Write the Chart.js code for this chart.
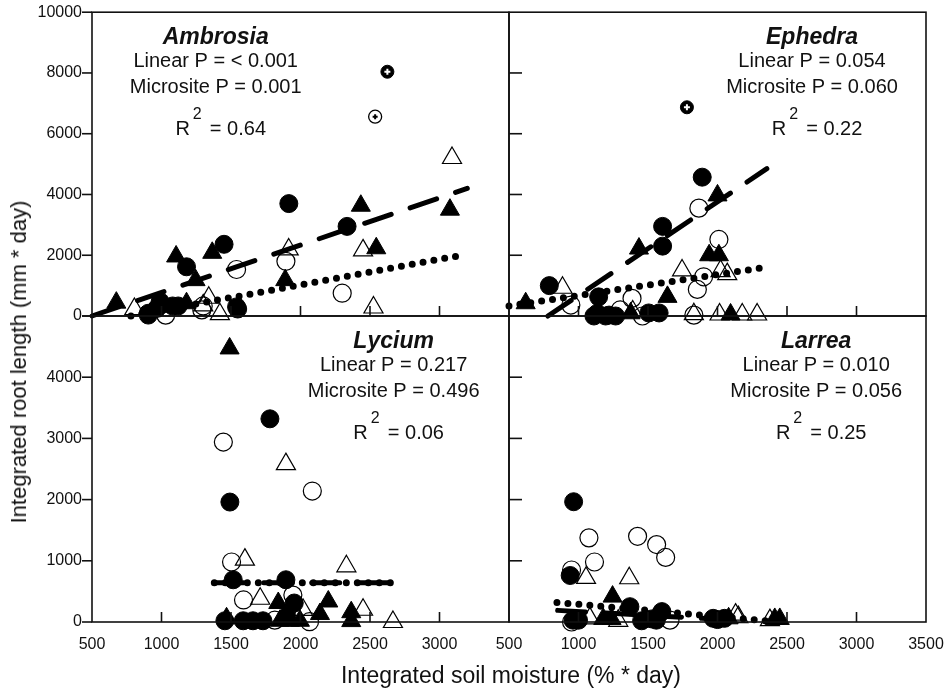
<!DOCTYPE html>
<html>
<head>
<meta charset="utf-8">
<script src="https://cdn.jsdelivr.net/npm/chart.js@4.4.1/dist/chart.umd.min.js"></script>
<style>
body { margin: 0; background: #fff; }
#wrap { position: relative; width: 948px; height: 688px; font-family: "Liberation Sans", Arial, sans-serif; color: #111; }
#wrap canvas { position: absolute; left: 0; top: 0; }
.ytitle { position: absolute; left: 19px; top: 362px; transform: translate(-50%, -50%) rotate(-90deg); font-size: 22px; white-space: nowrap; }
.xtitle { position: absolute; left: 511px; top: 675px; transform: translate(-50%, -50%); font-size: 23px; white-space: nowrap; }
</style>
</head>
<body>
<div id="wrap">
  <canvas id="ambrosia" width="948" height="688"></canvas>
  <canvas id="ephedra" width="948" height="688"></canvas>
  <canvas id="lycium" width="948" height="688"></canvas>
  <canvas id="larrea" width="948" height="688"></canvas>
  <div class="ytitle">Integrated root length (mm * day)</div>
  <div class="xtitle">Integrated soil moisture (% * day)</div>
</div>
<script>
// panel labels and stats
const species = ['Ambrosia', 'Ephedra', 'Lycium', 'Larrea'];
const linearP = ['< 0.001', '0.054', '0.217', '0.010'];
const micrositeP = ['0.001', '0.060', '0.496', '0.056'];
const rSquared = ['0.64', '0.22', '0.06', '0.25'];

// [soil moisture, root length]
const ambrosiaFilledCircles = [[905, 30], [905, 90], [967, 250], [990, 470], [1080, 330], [1120, 330], [1180, 1620], [1450, 2360], [1540, 300], [1548, 230], [1916, 3700], [2335, 2950]];
const ambrosiaOpenCircles = [[1030, 30], [1290, 200], [1300, 330], [1540, 1530], [1895, 1800], [2300, 750]];
const ambrosiaFilledTriangles = [[675, 440], [1105, 1960], [1180, 420], [1245, 1180], [1365, 2080], [1890, 1180], [2434, 3630], [2545, 2230], [3075, 3500]];
const ambrosiaOpenTriangles = [[805, 230], [1300, 350], [1340, 600], [1420, 60], [1915, 2190], [2450, 2160], [2525, 280], [3090, 5200]];
const ambrosiaMarkedFilled = [[2625, 8040]];
const ambrosiaMarkedOpen = [[2537, 6560]];
const ambrosiaDashed = [[500, 0], [3200, 4200]];
const ambrosiaDotted = [[780, 0], [3160, 2000]];

const ephedraFilledCircles = [[790, 1000], [1111, 0], [1135, 90], [1145, 630], [1195, 0], [1220, 30], [1267, 0], [1505, 100], [1580, 100], [1605, 2300], [1605, 2950], [1890, 4570]];
const ephedraOpenCircles = [[945, 360], [1300, 200], [1385, 580], [1460, 0], [1830, 30], [1855, 875], [1900, 1290], [1866, 3550], [2010, 2520]];
const ephedraFilledTriangles = [[620, 420], [1375, 90], [1435, 2220], [1640, 630], [1940, 2000], [2010, 2000], [2000, 3970], [2094, 50]];
const ephedraOpenTriangles = [[885, 930], [1390, 150], [1745, 1500], [1830, 60], [2015, 50], [2022, 1480], [2070, 1380], [2178, 50], [2285, 50]];
const ephedraMarkedFilled = [[1780, 6870]];
const ephedraMarkedOpen = [];
const ephedraDashed = [[780, 0], [2355, 4850]];
const ephedraDotted = [[500, 330], [2330, 1590]];

const lyciumFilledCircles = [[1456, 20], [1492, 1960], [1516, 690], [1588, 20], [1658, 20], [1730, 20], [1780, 3320], [1895, 690], [1900, 90], [1955, 310]];
const lyciumOpenCircles = [[1445, 2940], [1504, 980], [1590, 360], [1815, 30], [1945, 440], [2065, 5], [2085, 2140]];
const lyciumFilledTriangles = [[1468, 60], [1490, 4470], [1840, 310], [1852, 20], [1924, 20], [1996, 20], [2140, 130], [2200, 335], [2365, 160], [2365, 15]];
const lyciumOpenTriangles = [[1600, 1020], [1710, 380], [1895, 2580], [2019, 197], [2330, 910], [2450, 200], [2665, 0]];
const lyciumMarkedFilled = [];
const lyciumMarkedOpen = [];
const lyciumDashed = [[1390, 640], [2715, 640]];
const lyciumDotted = [[1380, 640], [2715, 640]];

const larreaFilledCircles = [[940, 760], [960, 30], [965, 1965], [1000, 30], [1370, 250], [1454, 20], [1526, 50], [1560, 30], [1600, 170], [1969, 60], [2000, 40], [2050, 60]];
const larreaOpenCircles = [[950, 0], [950, 850], [1075, 1375], [1115, 980], [1425, 1400], [1562, 1265], [1627, 1055], [1658, 30]];
const larreaFilledTriangles = [[1178, 50], [1238, 50], [1245, 415], [2080, 60], [2412, 50], [2448, 50]];
const larreaOpenTriangles = [[1054, 720], [1082, 60], [1286, 20], [1365, 715], [2130, 120], [2150, 80], [2377, 30]];
const larreaMarkedFilled = [];
const larreaMarkedOpen = [];
const larreaDashed = [[850, 190], [2050, 40]];
const larreaDotted = [[845, 320], [2425, 5]];

const FONT = '"Liberation Sans", Arial, sans-serif';
Chart.defaults.color = '#111';
Chart.defaults.font.family = FONT;

function pts(arr) { return arr.map(p => ({ x: p[0], y: p[1] })); }

function line(ctx, x1, y1, x2, y2) {
  ctx.beginPath(); ctx.moveTo(x1, y1); ctx.lineTo(x2, y2); ctx.stroke();
}

// frame, inward ticks and the stats text of each panel
const panelPlugin = {
  id: 'panel',
  afterDraw(chart, args, o) {
    const { ctx, chartArea: a, scales } = chart;
    ctx.save();
    ctx.strokeStyle = '#111';
    ctx.lineWidth = 1.6;
    ctx.strokeRect(a.left, a.top, a.right - a.left, a.bottom - a.top);
    scales.x.ticks.forEach(t => {
      const px = scales.x.getPixelForValue(t.value);
      if (px > a.left + 2 && px < a.right - 2) line(ctx, px, a.bottom, px, a.bottom - 10);
    });
    scales.y.ticks.forEach(t => {
      const py = scales.y.getPixelForValue(t.value);
      if (o.outward) line(ctx, a.left - 10, py, a.left, py);
      else if (py > a.top + 2 && py < a.bottom - 2) line(ctx, a.left, py, a.left + 13, py);
    });

    const k = o.k;
    const cx = scales.x.getPixelForValue(o.cx);
    const base = a.top + 32;
    ctx.fillStyle = '#111';
    ctx.textBaseline = 'alphabetic';
    ctx.textAlign = 'center';
    ctx.font = 'italic bold 23px ' + FONT;
    ctx.fillText(species[k], cx, base);
    ctx.font = '20px ' + FONT;
    ctx.fillText('Linear P = ' + linearP[k], cx, base + 23);
    ctx.fillText('Microsite P = ' + micrositeP[k], cx, base + 49);
    ctx.textAlign = 'left';
    const tail = '= ' + rSquared[k];
    const wR = ctx.measureText('R').width;
    const total = wR + 20 + ctx.measureText(tail).width;
    const x0 = cx + 5 - total / 2;
    ctx.fillText('R', x0, base + 91);
    ctx.fillText(tail, x0 + wR + 20, base + 91);
    ctx.font = '16px ' + FONT;
    ctx.fillText('2', x0 + wR + 3, base + 75);
    ctx.restore();
  }
};

function makePanel(cfg) {
  const d = cfg.data;
  const datasets = [
    { data: pts(d[0]), pointStyle: 'circle', pointRadius: 9, backgroundColor: '#000', borderColor: '#000', borderWidth: 1 },
    { data: pts(d[1]), pointStyle: 'circle', pointRadius: 9, backgroundColor: 'rgba(0,0,0,0)', borderColor: '#000', borderWidth: 1.2 },
    { data: pts(d[2]), pointStyle: 'triangle', pointRadius: 11, backgroundColor: '#000', borderColor: '#000', borderWidth: 1 },
    { data: pts(d[3]), pointStyle: 'triangle', pointRadius: 11, backgroundColor: 'rgba(0,0,0,0)', borderColor: '#000', borderWidth: 1.2 },
    { data: pts(d[4]), pointStyle: 'cross', pointRadius: 3, borderColor: '#fff', borderWidth: 2 },
    { data: pts(d[4]), pointStyle: 'circle', pointRadius: 6.5, backgroundColor: '#000', borderColor: '#000', borderWidth: 1 },
    { data: pts(d[5]), pointStyle: 'cross', pointRadius: 2.5, borderColor: '#000', borderWidth: 2 },
    { data: pts(d[5]), pointStyle: 'circle', pointRadius: 6.5, backgroundColor: '#fff', borderColor: '#000', borderWidth: 1.3 },
    { type: 'line', data: pts(d[6]), borderColor: '#000', borderWidth: 5, borderDash: [28, 20], borderCapStyle: 'round', pointRadius: 0, fill: false },
    { type: 'line', data: pts(d[7]), borderColor: '#000', borderWidth: 7, borderDash: [0, 11], borderCapStyle: 'round', pointRadius: 0, fill: false }
  ];
  datasets.forEach(ds => { ds.clip = false; ds.pointHoverRadius = ds.pointRadius; });

  return new Chart(document.getElementById(cfg.canvas), {
    type: 'scatter',
    data: { datasets },
    plugins: [panelPlugin],
    options: {
      responsive: false,
      animation: false,
      events: [],
      layout: { padding: cfg.padding },
      plugins: {
        legend: { display: false },
        tooltip: { enabled: false },
        panel: { k: cfg.k, cx: cfg.cx, outward: cfg.left }
      },
      scales: {
        x: {
          type: 'linear', min: 500, max: 3500,
          display: cfg.bottom,
          grid: { display: false, drawTicks: false },
          border: { display: false },
          ticks: {
            stepSize: 500, autoSkip: false, maxRotation: 0, padding: 13,
            font: { size: 16 },
            callback: v => (cfg.left && v === 3500) ? '' : v
          },
          afterFit: s => {
            s.height = cfg.bottom ? 50 : 0;
            s.paddingLeft = 0; s.paddingRight = 0;
          }
        },
        y: {
          type: 'linear', min: 0, max: cfg.yMax,
          display: cfg.left,
          grid: { display: false, drawTicks: false },
          border: { display: false },
          ticks: {
            stepSize: cfg.yStep, padding: 10,
            font: { size: 16 },
            callback: v => (!cfg.top && v === cfg.yMax) ? '' : v
          },
          afterFit: s => {
            s.width = cfg.left ? 92 : 0;
            s.paddingTop = 0; s.paddingBottom = 0;
          }
        }
      }
    }
  });
}

makePanel({ canvas: 'ambrosia', k: 0, cx: 1390, left: true, top: true, bottom: false, yMax: 10000, yStep: 2000,
  padding: { left: 0, top: 11, right: 439, bottom: 372 },
  data: [ambrosiaFilledCircles, ambrosiaOpenCircles, ambrosiaFilledTriangles, ambrosiaOpenTriangles, ambrosiaMarkedFilled, ambrosiaMarkedOpen, ambrosiaDashed, ambrosiaDotted] });
makePanel({ canvas: 'ephedra', k: 1, cx: 2680, left: false, top: true, bottom: false, yMax: 10000, yStep: 2000,
  padding: { left: 509, top: 11, right: 22, bottom: 372 },
  data: [ephedraFilledCircles, ephedraOpenCircles, ephedraFilledTriangles, ephedraOpenTriangles, ephedraMarkedFilled, ephedraMarkedOpen, ephedraDashed, ephedraDotted] });
makePanel({ canvas: 'lycium', k: 2, cx: 2670, left: true, top: false, bottom: true, yMax: 5000, yStep: 1000,
  padding: { left: 0, top: 316, right: 439, bottom: 16 },
  data: [lyciumFilledCircles, lyciumOpenCircles, lyciumFilledTriangles, lyciumOpenTriangles, lyciumMarkedFilled, lyciumMarkedOpen, lyciumDashed, lyciumDotted] });
makePanel({ canvas: 'larrea', k: 3, cx: 2710, left: false, top: false, bottom: true, yMax: 5000, yStep: 1000,
  padding: { left: 509, top: 316, right: 22, bottom: 16 },
  data: [larreaFilledCircles, larreaOpenCircles, larreaFilledTriangles, larreaOpenTriangles, larreaMarkedFilled, larreaMarkedOpen, larreaDashed, larreaDotted] });
</script>
</body>
</html>
